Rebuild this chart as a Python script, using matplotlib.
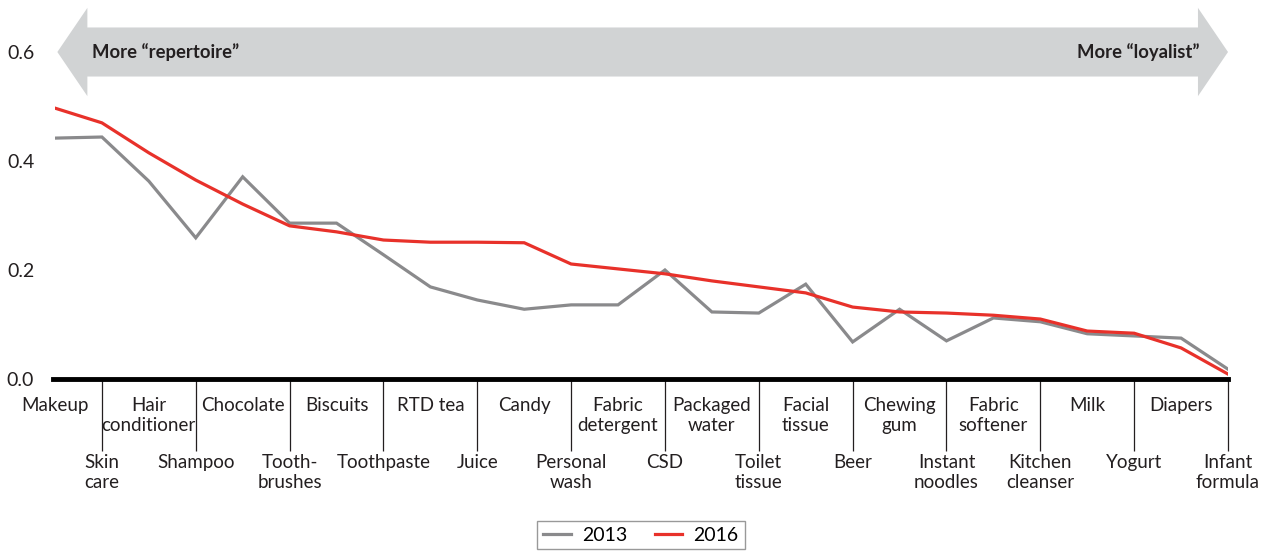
import matplotlib.pyplot as plt
import matplotlib as mpl
from matplotlib.patches import Polygon
import numpy as np

mpl.rcParams.update({
    "font.family": ["Lato", "DejaVu Sans"],
    "font.size": 13.5,
})

# ===========================================================
# Data
# ===========================================================
categories = [
    "Makeup", "Skin\ncare", "Hair\nconditioner", "Shampoo", "Chocolate",
    "Tooth-\nbrushes", "Biscuits", "Toothpaste", "RTD tea", "Juice",
    "Candy", "Personal\nwash", "Fabric\ndetergent", "CSD", "Packaged\nwater",
    "Toilet\ntissue", "Facial\ntissue", "Beer", "Chewing\ngum", "Instant\nnoodles",
    "Fabric\nsoftener", "Kitchen\ncleanser", "Milk", "Yogurt", "Diapers",
    "Infant\nformula",
]

values_2013 = [
    0.442, 0.444, 0.363, 0.259, 0.371, 0.286, 0.286, 0.228, 0.169, 0.145,
    0.128, 0.136, 0.136, 0.200, 0.123, 0.121, 0.174, 0.068, 0.128, 0.070,
    0.112, 0.105, 0.083, 0.079, 0.075, 0.018,
]

values_2016 = [
    0.497, 0.470, 0.415, 0.365, 0.321, 0.281, 0.270, 0.255, 0.251, 0.251,
    0.250, 0.211, 0.202, 0.193, 0.180, 0.169, 0.158, 0.132, 0.123, 0.121,
    0.117, 0.110, 0.088, 0.084, 0.057, 0.009,
]

y_ticks = [0.0, 0.2, 0.4, 0.6]

color_2013 = "#8a8a8c"
color_2016 = "#e8312a"
arrow_color = "#d1d3d4"

# ===========================================================
# Figure
# ===========================================================
fig = plt.figure(figsize=(12.62, 5.53), dpi=100)
W, H = 1262, 553
ax = fig.add_axes([55 / W, 1 - 379 / H, (1228 - 55) / W, (379 - 52) / H])

x = np.arange(len(categories))
n = len(categories)

ax.plot(x, values_2013, color=color_2013, lw=2.3, label="2013", zorder=3,
        solid_joinstyle="miter")
ax.plot(x, values_2016, color=color_2016, lw=2.3, label="2016", zorder=4,
        solid_joinstyle="miter")

ax.set_xlim(0, n - 1)
ax.set_ylim(0, 0.6)

# double-headed arrow across the top
x0, x1 = 0.05, n - 1
head_len = 0.64
body_h, head_h = 0.045, 0.081
yc = 0.6
arrow = Polygon(
    [(x0, yc), (x0 + head_len, yc + head_h), (x0 + head_len, yc + body_h),
     (x1 - head_len, yc + body_h), (x1 - head_len, yc + head_h), (x1, yc),
     (x1 - head_len, yc - head_h), (x1 - head_len, yc - body_h),
     (x0 + head_len, yc - body_h), (x0 + head_len, yc - head_h)],
    closed=True, facecolor=arrow_color, edgecolor="none", clip_on=False, zorder=1,
)
ax.add_patch(arrow)
ax.text(x0 + 0.73, yc, "More \u201crepertoire\u201d", fontweight="bold",
        fontsize=13.3, va="center", ha="left", color="#231f20", zorder=2)
ax.text(x1 - 0.6, yc, "More \u201cloyalist\u201d", fontweight="bold",
        fontsize=13.3, va="center", ha="right", color="#231f20", zorder=2)

# baseline
ax.axhline(0, color="black", lw=3.5, xmin=-0.002, zorder=5, clip_on=False)

# category labels, alternating rows, separators on the odd ones
for i, lab in enumerate(categories):
    if i % 2 == 0:
        ax.text(i, -0.033, lab, ha="center", va="top", linespacing=1.2,
                color="#231f20")
    else:
        ax.vlines(i, -0.132, 0, color="#231f20", lw=0.9, clip_on=False)
        ax.text(i, -0.138, lab, ha="center", va="top", linespacing=1.2,
                color="#231f20")

ax.set_xticks([])
ax.set_yticks(y_ticks)
ax.set_yticklabels([f"{v:.1f}" for v in y_ticks])
ax.tick_params(axis="y", length=0, pad=15, labelsize=14, labelcolor="#231f20")
for s in ax.spines.values():
    s.set_visible(False)

leg = fig.legend(loc="upper center", bbox_to_anchor=(641 / W, 1 - 511 / H),
                 ncol=2, frameon=True, fancybox=False, handlelength=1.4,
                 handletextpad=0.6, columnspacing=1.4, borderpad=0.3,
                 fontsize=14)
leg.get_frame().set_edgecolor("#808080")
leg.get_frame().set_linewidth(1.0)

fig.savefig("out.png", dpi=100)
